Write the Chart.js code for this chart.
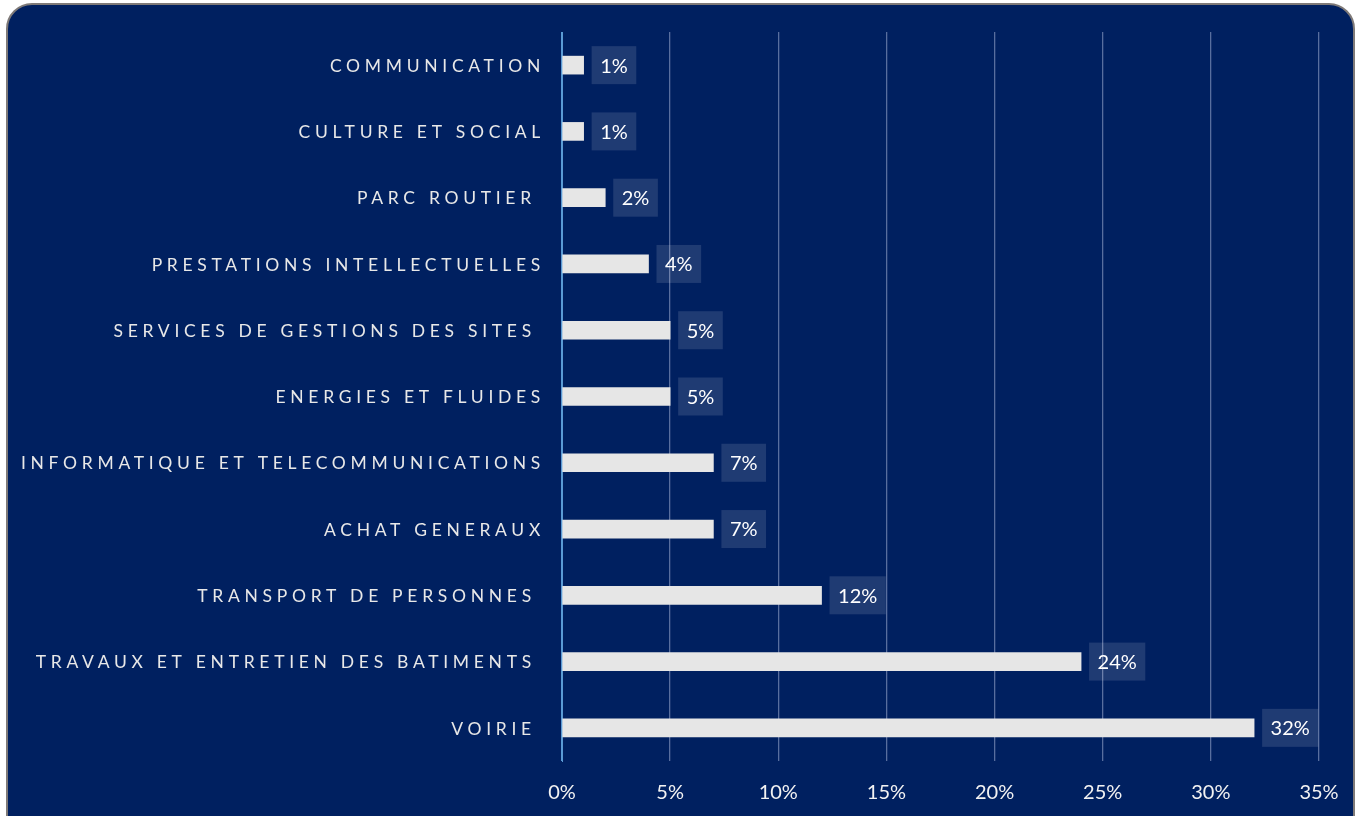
<!DOCTYPE html>
<html>
<head>
  <meta charset="UTF-8">
  <title>Répartition par famille d'achats</title>
  <script src="https://cdn.jsdelivr.net/npm/chart.js@4.4.1/dist/chart.umd.min.js"></script>
  <style>
    html, body { margin: 0; padding: 0; background: #ffffff; width: 1355px; height: 816px; overflow: hidden; }
    #card {
      position: absolute; left: 6px; top: 3px; width: 1345px; height: 840px;
      background: #002060; border: 2px solid #7f7a78; border-radius: 26px;
    }
    #wrap { position: absolute; left: 0; top: 0; width: 1355px; height: 816px; }
  </style>
</head>
<body>
<div id="card"></div>
<div id="wrap"><canvas id="myChart"></canvas></div>
<script>
  // familles d'achats, du haut vers le bas
  var categories = [
    "COMMUNICATION",
    "CULTURE ET SOCIAL",
    "PARC ROUTIER ",
    "PRESTATIONS INTELLECTUELLES",
    "SERVICES DE GESTIONS DES SITES ",
    "ENERGIES ET FLUIDES",
    "INFORMATIQUE ET TELECOMMUNICATIONS",
    "ACHAT GENERAUX",
    "TRANSPORT DE PERSONNES ",
    "TRAVAUX ET ENTRETIEN DES BATIMENTS ",
    "VOIRIE "
  ];
  // part en %
  var shares = [1, 1, 2, 4, 5, 5, 7, 7, 12, 24, 32];
  var xMax = 35;
  var xStep = 5;

  // y labels drawn by hand so we can space the letters
  var spacedLabels = {
    id: "spacedLabels",
    afterDraw: function(chart) {
      var ctx = chart.ctx, y = chart.scales.y;
      ctx.save();
      ctx.font = "17.5px Lato";
      ctx.fillStyle = "#e8e8e8";
      ctx.textAlign = "right";
      ctx.textBaseline = "middle";
      ctx.letterSpacing = "4.7px";
      y.ticks.forEach(function(t, i) {
        ctx.fillText(chart.data.labels[i], 545, y.getPixelForTick(i) + 1);
      });
      ctx.restore();
    }
  };

  // value boxes at the end of each bar
  var valueBoxes = {
    id: "valueBoxes",
    afterDatasetsDraw: function(chart) {
      var ctx = chart.ctx;
      var meta = chart.getDatasetMeta(0);
      ctx.save();
      ctx.font = "20px Lato";
      ctx.textBaseline = "middle";
      ctx.textAlign = "center";
      meta.data.forEach(function(bar, i) {
        var txt = chart.data.datasets[0].data[i] + "%";
        var w = ctx.measureText(txt).width + 17;
        var h = 38;
        var x0 = bar.x + 8;
        ctx.fillStyle = "rgba(255,255,255,0.12)";
        ctx.fillRect(x0, bar.y - h / 2, w, h);
        ctx.fillStyle = "#ffffff";
        ctx.fillText(txt, x0 + w / 2, bar.y + 1);
      });
      ctx.restore();
    }
  };

  new Chart(document.getElementById("myChart"), {
    type: "bar",
    data: {
      labels: categories,
      datasets: [{
        data: shares,
        backgroundColor: "#e6e6e6",
        barThickness: 18
      }]
    },
    options: {
      indexAxis: "y",
      responsive: true,
      maintainAspectRatio: false,
      animation: false,
      layout: { padding: { top: 32, right: 36, bottom: 0, left: 0 } },
      plugins: { legend: { display: false }, tooltip: { enabled: false } },
      scales: {
        x: {
          min: 0, max: xMax,
          ticks: {
            stepSize: xStep,
            color: "#f2f2f2",
            font: { family: "Lato", size: 20, lineHeight: 2.8 },
            padding: 4,
            callback: function(v) { return v + "%"; }
          },
          grid: {
            drawTicks: false,
            color: function(c) { return c.index === 0 ? "#5b9bd5" : "rgba(160,175,210,0.55)"; },
            lineWidth: 1.3
          },
          border: { display: false },
          afterFit: function(s) { s.height = 55; }
        },
        y: {
          ticks: { display: false },
          grid: { display: false },
          border: { display: true, color: "#5b9bd5", width: 1 },
          afterFit: function(s) { s.width = 562; }
        }
      }
    },
    plugins: [spacedLabels, valueBoxes]
  });
</script>
</body>
</html>
